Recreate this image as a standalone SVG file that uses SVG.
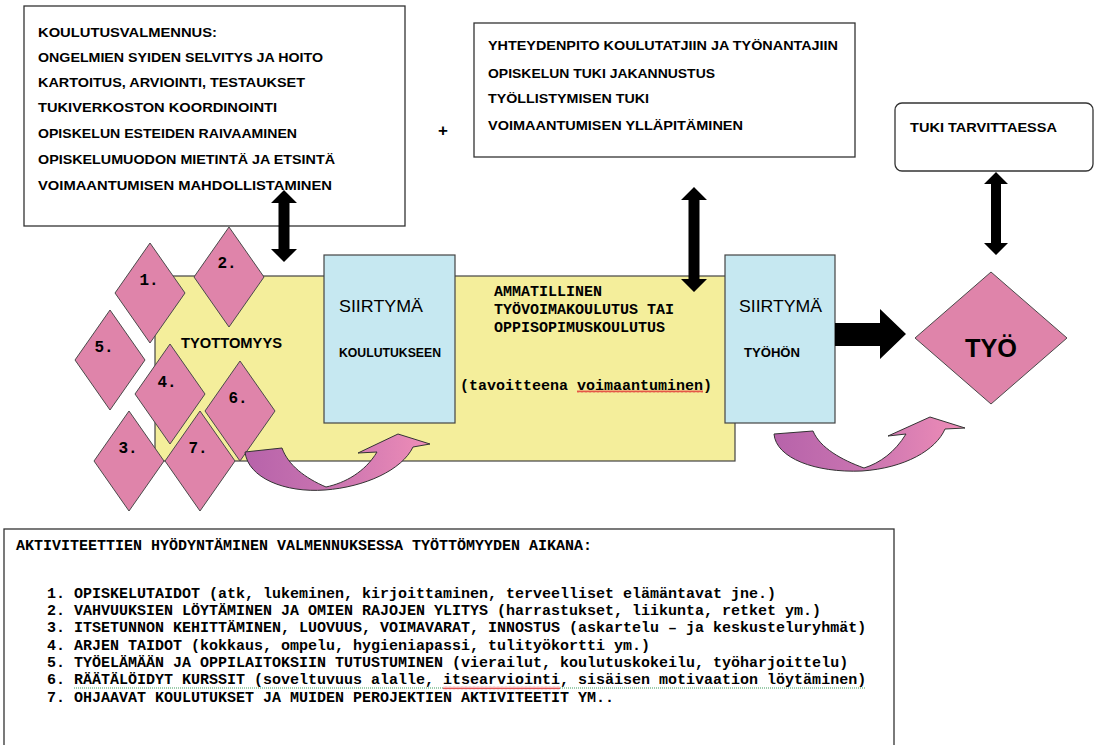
<svg xmlns="http://www.w3.org/2000/svg" width="1094" height="745" viewBox="0 0 1094 745">
<style>
.box{fill:#fff;stroke:#333;stroke-width:1.3}
.yel{fill:#f4ee9b;stroke:#444;stroke-width:1.2}
.blue{fill:#c6e8f1;stroke:#444;stroke-width:1.2}
.dia{fill:#df84aa;stroke:#4a4a4a;stroke-width:1}
.sb{font-family:"Liberation Sans",Arial,sans-serif;font-weight:bold;font-size:13px;fill:#000}
.sn{font-family:"Liberation Sans",Arial,sans-serif;font-size:17px;fill:#000}
.mono{font-family:"Liberation Mono","Courier New",monospace;font-weight:bold;font-size:15px;fill:#000}
.lab{font-family:"Liberation Mono","Courier New",monospace;font-weight:bold;font-size:16px;fill:#000;text-anchor:middle}
.blk{fill:#000}
.curve{stroke:#333;stroke-width:1}
.gdot{stroke:#3a9a5a;stroke-width:1.2;stroke-dasharray:1 1;fill:none}
</style>
<defs>
<linearGradient id="cg" x1="0" y1="0" x2="1" y2="0">
<stop offset="0" stop-color="#b763aa"/>
<stop offset="0.45" stop-color="#c873b0"/>
<stop offset="1" stop-color="#ef8db7"/>
</linearGradient>
<pattern id="wave" width="4" height="3" patternUnits="userSpaceOnUse">
<path d="M0,2.5 L1,0.5 L2,2.5 L3,0.5 L4,2.5" fill="none" stroke="#e03030" stroke-width="0.8"/>
</pattern>
</defs>

<g id="koulutusvalmennus">
<rect class="box" x="24" y="6" width="381" height="220"/>
<text class="sb" x="38" y="37" textLength="179" lengthAdjust="spacingAndGlyphs">KOULUTUSVALMENNUS:</text>
<text class="sb" x="38" y="62" textLength="285" lengthAdjust="spacingAndGlyphs">ONGELMIEN SYIDEN SELVITYS JA HOITO</text>
<text class="sb" x="38" y="87" textLength="267" lengthAdjust="spacingAndGlyphs">KARTOITUS, ARVIOINTI, TESTAUKSET</text>
<text class="sb" x="38" y="112" textLength="239" lengthAdjust="spacingAndGlyphs">TUKIVERKOSTON KOORDINOINTI</text>
<text class="sb" x="38" y="138" textLength="259" lengthAdjust="spacingAndGlyphs">OPISKELUN ESTEIDEN RAIVAAMINEN</text>
<text class="sb" x="38" y="164" textLength="297" lengthAdjust="spacingAndGlyphs">OPISKELUMUODON MIETINTÄ JA ETSINTÄ</text>
<text class="sb" x="38" y="190" textLength="294" lengthAdjust="spacingAndGlyphs">VOIMAANTUMISEN MAHDOLLISTAMINEN</text>
</g>

<g id="plus">
<text x="443" y="136" text-anchor="middle" style="font-family:'Liberation Sans',Arial,sans-serif;font-weight:bold;font-size:17px">+</text>
</g>

<g id="yhteydenpito">
<rect class="box" x="474" y="23" width="381" height="134"/>
<text class="sb" x="488" y="50" textLength="350" lengthAdjust="spacingAndGlyphs">YHTEYDENPITO KOULUTATJIIN JA TYÖNANTAJIIN</text>
<text class="sb" x="488" y="78" textLength="227" lengthAdjust="spacingAndGlyphs">OPISKELUN TUKI JAKANNUSTUS</text>
<text class="sb" x="488" y="103" textLength="161" lengthAdjust="spacingAndGlyphs">TYÖLLISTYMISEN TUKI</text>
<text class="sb" x="488" y="130" textLength="255" lengthAdjust="spacingAndGlyphs">VOIMAANTUMISEN YLLÄPITÄMINEN</text>
</g>

<g id="tuki-tarvittaessa">
<rect class="box" x="895" y="103" width="198" height="68" rx="7" ry="7"/>
<text class="sb" x="910" y="132" textLength="147" lengthAdjust="spacingAndGlyphs">TUKI TARVITTAESSA</text>
</g>

<g id="tyottomyys-koulutus">
<rect class="yel" x="155" y="276" width="580" height="185"/>
<text class="sb" x="181" y="348" textLength="101" lengthAdjust="spacingAndGlyphs" style="font-size:14px">TYOTTOMYYS</text>
<text class="mono" x="494" y="296">AMMATILLINEN</text>
<text class="mono" x="494" y="314">TYÖVOIMAKOULUTUS TAI</text>
<text class="mono" x="494" y="332">OPPISOPIMUSKOULUTUS</text>
<text class="mono" x="460" y="390">(tavoitteena voimaantuminen)</text>
<rect x="577" y="390" width="126" height="3" fill="url(#wave)"/>
</g>

<g id="siirtyma-koulutukseen">
<rect class="blue" x="324" y="255" width="131" height="168"/>
<text class="sn" x="339" y="312" textLength="84" lengthAdjust="spacingAndGlyphs">SIIRTYMÄ</text>
<text class="sb" x="339" y="357" style="font-size:12px" textLength="102" lengthAdjust="spacingAndGlyphs">KOULUTUKSEEN</text>
</g>

<g id="siirtyma-tyohon">
<rect class="blue" x="725" y="255" width="110" height="168"/>
<text class="sn" x="739" y="312" textLength="83" lengthAdjust="spacingAndGlyphs">SIIRTYMÄ</text>
<text class="sb" x="744" y="357" style="font-size:12px" textLength="56" lengthAdjust="spacingAndGlyphs">TYÖHÖN</text>
</g>

<g id="d1"><polygon class="dia" points="150,243 185,293 150,343 115,293"/><text class="lab" x="149" y="285">1.</text></g>
<g id="d2"><polygon class="dia" points="229,227 264,277 229,327 194,277"/><text class="lab" x="227" y="268">2.</text></g>
<g id="d5"><polygon class="dia" points="110,310 145,360 110,410 75,360"/><text class="lab" x="104" y="352">5.</text></g>
<g id="d4"><polygon class="dia" points="170,344 205,394 170,444 135,394"/><text class="lab" x="167" y="387">4.</text></g>
<g id="d6"><polygon class="dia" points="240,361 275,411 240,461 205,411"/><text class="lab" x="238" y="403">6.</text></g>
<g id="d3"><polygon class="dia" points="129,411 164,461 129,511 94,461"/><text class="lab" x="128" y="453">3.</text></g>
<g id="d7"><polygon class="dia" points="200,411 235,461 200,511 165,461"/><text class="lab" x="198" y="453">7.</text></g>

<g id="tyo">
<polygon class="dia" points="991,272 1067,338 991,404 915,338"/>
<text x="991" y="357" text-anchor="middle" font-family="'Liberation Sans',Arial,sans-serif" font-weight="bold" font-size="26" textLength="52" lengthAdjust="spacingAndGlyphs">TYÖ</text>
</g>

<g id="aktiviteetit">
<rect class="box" x="4" y="529" width="890" height="230"/>
<g class="mono" xml:space="preserve">
<text x="16" y="550">AKTIVITEETTIEN HYÖDYNTÄMINEN VALMENNUKSESSA TYÖTTÖMYYDEN AIKANA:</text>
<text x="47" y="598">1. OPISKELUTAIDOT (atk, lukeminen, kirjoittaminen, terveelliset elämäntavat jne.)</text>
<text x="47" y="615">2. VAHVUUKSIEN LÖYTÄMINEN JA OMIEN RAJOJEN YLITYS (harrastukset, liikunta, retket ym.)</text>
<text x="47" y="632">3. ITSETUNNON KEHITTÄMINEN, LUOVUUS, VOIMAVARAT, INNOSTUS (askartelu – ja keskusteluryhmät)</text>
<text x="47" y="650">4. ARJEN TAIDOT (kokkaus, ompelu, hygieniapassi, tulityökortti ym.)</text>
<text x="47" y="667">5. TYÖELÄMÄÄN JA OPPILAITOKSIIN TUTUSTUMINEN (vierailut, koulutuskokeilu, työharjoittelu)</text>
<text x="47" y="684">6. RÄÄTÄLÖIDYT KURSSIT (soveltuvuus alalle, itsearviointi, sisäisen motivaation löytäminen)</text>
<text x="47" y="702">7. OHJAAVAT KOULUTUKSET JA MUIDEN PEROJEKTIEN AKTIVITEETIT YM..</text>
</g>
<line class="gdot" x1="74" y1="688" x2="443" y2="688"/>
<rect x="443" y="686.5" width="117" height="3" fill="url(#wave)"/>
<line class="gdot" x1="560" y1="688" x2="866" y2="688"/>
</g>

<g id="connectors">
<polygon class="blk" points="284,190 297,203 289.5,203 289.5,249 297,249 284,262 271,249 278.5,249 278.5,203 271,203"/>
<polygon class="blk" points="694,187 707,200 699.5,200 699.5,279 707,279 694,292 681,279 688.5,279 688.5,200 681,200"/>
<polygon class="blk" points="996,172 1008,184 1001,184 1001,243 1008,243 996,255 984,243 991,243 991,184 984,184"/>
<polygon class="blk" points="835,323 880,323 880,309 906,334 880,359 880,346 835,346"/>
<path class="curve" fill="url(#cg)" d="M245,452 C248,478 285,493 325,490 C365,487 402,470 413,447 L430,444 L398,434 L358,453 L377,452 C365,472 345,483 326,487 C305,478 288,465 282,448 Z"/>
<path class="curve" fill="url(#cg)" d="M774,434 C776,458 815,473 862,471 C905,468 936,450 945,429 L965,428 L930,417 L888,436 L906,434 C895,452 880,463 864,468 C842,460 820,448 813,431 Z"/>
</g>
</svg>
